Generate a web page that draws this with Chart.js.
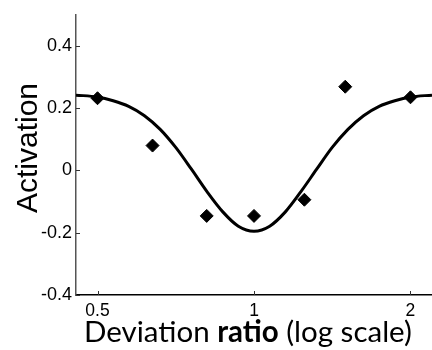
<!DOCTYPE html>
<html>
<head>
<meta charset="utf-8">
<script src="https://cdn.jsdelivr.net/npm/chart.js@4/dist/chart.umd.min.js"></script>
<style>
html,body{margin:0;padding:0;background:#fff;}
#c{display:block;}
</style>
</head>
<body>
<canvas id="c" width="432" height="350"></canvas>
<script>
// Measured data points (diamonds)
const pointX = [0.5, 0.638, 0.811, 1, 1.25, 1.498, 2];
const pointY = [0.232, 0.080, -0.146, -0.146, -0.094, 0.269, 0.235];

// Fitted curve
const curveX = [0.4545, 0.5, 0.5359, 0.574, 0.6156, 0.66, 0.707, 0.758, 0.812, 0.871, 0.933, 1,
                1.072, 1.149, 1.231, 1.32, 1.414, 1.516, 1.6245, 1.741, 1.866, 2, 2.2];
const curveY = [0.242, 0.236, 0.224, 0.206, 0.176, 0.132, 0.074, 0.004, -0.068, -0.133, -0.179, -0.195,
                -0.179, -0.133, -0.068, 0.004, 0.074, 0.132, 0.176, 0.206, 0.224, 0.236, 0.242];

const xTicks = [0.5, 1, 2];
const xTickLabels = ['0.5', '1', '2'];
const yTicks = [-0.4, -0.2, 0, 0.2, 0.4];
const yTickLabels = ['-0.4', '-0.2', '0', '0.2', '0.4'];

const yTitle = 'Activation';
const xTitleParts = [
  {text: 'Deviation ', bold: false},
  {text: 'ratio', bold: true},
  {text: ' (log scale)', bold: false}
];

const curveData = curveX.map((x, i) => ({x: x, y: curveY[i]}));
const pointData = pointX.map((x, i) => ({x: x, y: pointY[i]}));

const decorPlugin = {
  id: 'decor',
  afterDraw(chart) {
    const ctx = chart.ctx;
    const xs = chart.scales.x, ys = chart.scales.y;
    const area = chart.chartArea;
    ctx.save();
    // inward tick marks
    ctx.strokeStyle = '#333';
    ctx.lineWidth = 1;
    xTicks.forEach(v => {
      const px = Math.round(xs.getPixelForValue(v)) + 0.5;
      ctx.beginPath();
      ctx.moveTo(px, area.bottom);
      ctx.lineTo(px, area.bottom - 4);
      ctx.stroke();
    });
    yTicks.forEach(v => {
      const py = Math.round(ys.getPixelForValue(v)) + 0.5;
      ctx.beginPath();
      ctx.moveTo(area.left, py);
      ctx.lineTo(area.left + 4, py);
      ctx.stroke();
    });
    // y title
    ctx.fillStyle = '#000';
    ctx.font = '30px "Liberation Sans", Arial, sans-serif';
    ctx.textAlign = 'center';
    ctx.textBaseline = 'alphabetic';
    ctx.translate(37, 148);
    ctx.rotate(-Math.PI / 2);
    ctx.fillText(yTitle, 0, 0);
    ctx.setTransform(1, 0, 0, 1, 0, 0);
    // x title with mixed weights
    ctx.textAlign = 'left';
    let x = 84;
    const base = 342;
    xTitleParts.forEach(p => {
      ctx.font = (p.bold ? 'bold ' : '') + '29.5px Lato, "Open Sans", sans-serif';
      ctx.fillText(p.text, x, base);
      x += ctx.measureText(p.text).width;
    });
    ctx.restore();
  }
};

new Chart(document.getElementById('c'), {
  data: {
    datasets: [
      {
        type: 'line',
        data: curveData,
        borderColor: '#000',
        borderWidth: 3,
        pointRadius: 0,
        cubicInterpolationMode: 'monotone',
        fill: false,
        order: 2
      },
      {
        type: 'scatter',
        data: pointData,
        pointStyle: 'rectRot',
        pointRadius: 6.5,
        pointBackgroundColor: '#000',
        pointBorderColor: '#000',
        pointBorderWidth: 1,
        order: 1
      }
    ]
  },
  options: {
    responsive: false,
    animation: false,
    devicePixelRatio: 1,
    layout: {autoPadding: false, padding: {top: 12, right: 0, left: 0, bottom: 0}},
    plugins: {legend: {display: false}, tooltip: {enabled: false}},
    scales: {
      x: {
        type: 'logarithmic',
        min: 1 / 2.2,
        max: 2.2,
        afterBuildTicks: s => { s.ticks = xTicks.map(v => ({value: v})); },
        afterFit: s => { s.height = 55; },
        grid: {display: false, drawTicks: false},
        border: {display: true, color: '#000', width: 1.5},
        ticks: {
          autoSkip: false,
          maxRotation: 0,
          padding: 6,
          color: '#000',
          font: {family: '"Liberation Sans", Arial, sans-serif', size: 17.5},
          callback: (v) => { const i = xTicks.indexOf(v); return i >= 0 ? xTickLabels[i] : ''; }
        }
      },
      y: {
        type: 'linear',
        min: -0.4,
        max: 0.5,
        afterBuildTicks: s => { s.ticks = yTicks.map(v => ({value: v})); },
        afterFit: s => { s.width = 76; },
        grid: {display: false, drawTicks: false},
        border: {display: true, color: '#555', width: 1.5},
        ticks: {
          autoSkip: false,
          padding: 4,
          color: '#000',
          font: {family: '"Liberation Sans", Arial, sans-serif', size: 18},
          callback: (v) => { const i = yTicks.findIndex(t => Math.abs(t - v) < 1e-9); return i >= 0 ? yTickLabels[i] : ''; }
        }
      }
    }
  },
  plugins: [decorPlugin]
});
</script>
</body>
</html>
